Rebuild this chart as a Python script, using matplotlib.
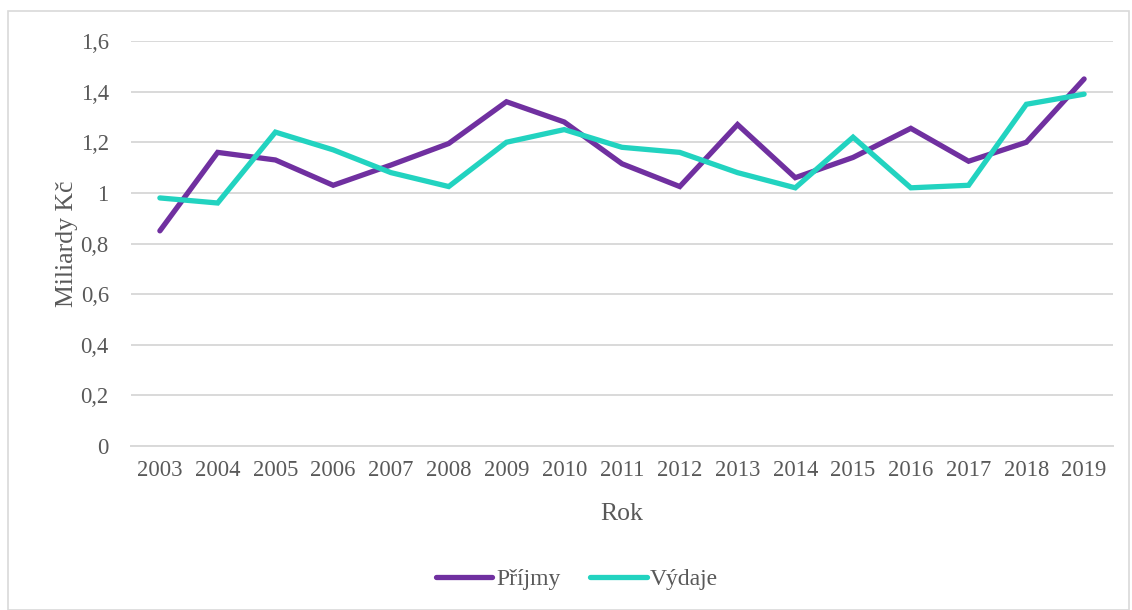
import matplotlib
matplotlib.use("Agg")
import matplotlib.pyplot as plt
from matplotlib.patches import Rectangle
from matplotlib.ticker import FixedLocator, FuncFormatter

years = ["2003", "2004", "2005", "2006", "2007", "2008", "2009", "2010", "2011",
         "2012", "2013", "2014", "2015", "2016", "2017", "2018", "2019"]
prijmy = [0.85, 1.16, 1.13, 1.03, 1.11, 1.195, 1.36, 1.28, 1.115,
          1.025, 1.27, 1.06, 1.14, 1.255, 1.125, 1.2, 1.45]
vydaje = [0.98, 0.96, 1.24, 1.17, 1.08, 1.025, 1.2, 1.25, 1.18,
          1.16, 1.08, 1.02, 1.22, 1.02, 1.03, 1.35, 1.39]
yticks = [0, 0.2, 0.4, 0.6, 0.8, 1.0, 1.2, 1.4, 1.6]

plt.rcParams['font.family'] = ['Liberation Serif', 'DejaVu Serif']
txt = '#595959'
grid = '#d9d9d9'

W, H = 1132, 610
fig = plt.figure(figsize=(W/100, H/100), dpi=100)
fig.patches.append(Rectangle((8/W, 0), (W-8-3)/W, (H-11)/H, transform=fig.transFigure,
                             fill=False, edgecolor='#d9d9d9', linewidth=1.2))

ax = fig.add_axes([131/W, (H-446)/H, (1113-131)/W, (446-41)/H])
x = list(range(len(years)))
ax.plot(x, prijmy, color='#7030a0', lw=3.8, label='Příjmy', solid_capstyle='round', solid_joinstyle='miter')
ax.plot(x, vydaje, color='#22d3c0', lw=3.8, label='Výdaje', solid_capstyle='round', solid_joinstyle='miter')

ax.set_xlim(-0.5, len(years) - 0.5)
ax.set_ylim(0, 1.6)
ax.set_xticks(x)
ax.set_xticklabels(years)
ax.yaxis.set_major_locator(FixedLocator(yticks))
ax.yaxis.set_major_formatter(FuncFormatter(lambda v, p: ('%g' % round(v, 1)).replace('.', ',')))
ax.grid(axis='y', color=grid, lw=1.4)
ax.set_axisbelow(True)
for s in ['top', 'right', 'left']:
    ax.spines[s].set_visible(False)
ax.spines['bottom'].set_color(grid)
ax.spines['bottom'].set_linewidth(1.4)
ax.tick_params(axis='both', length=0, labelcolor=txt, labelsize=16.3)
ax.tick_params(axis='y', pad=16)
ax.tick_params(axis='x', pad=10)

ax.set_xlabel('Rok', fontsize=18.5, color=txt, labelpad=16)
ax.set_ylabel('Miliardy Kč', fontsize=18.5, color=txt, labelpad=2)

leg = fig.legend(loc='center', bbox_to_anchor=(577/W, 1 - 579/H), ncol=2, frameon=False,
                 fontsize=17, handlelength=2.4, handletextpad=0.15, columnspacing=1.25)
for t in leg.get_texts():
    t.set_color(txt)

fig.savefig('out.png', dpi=100)
